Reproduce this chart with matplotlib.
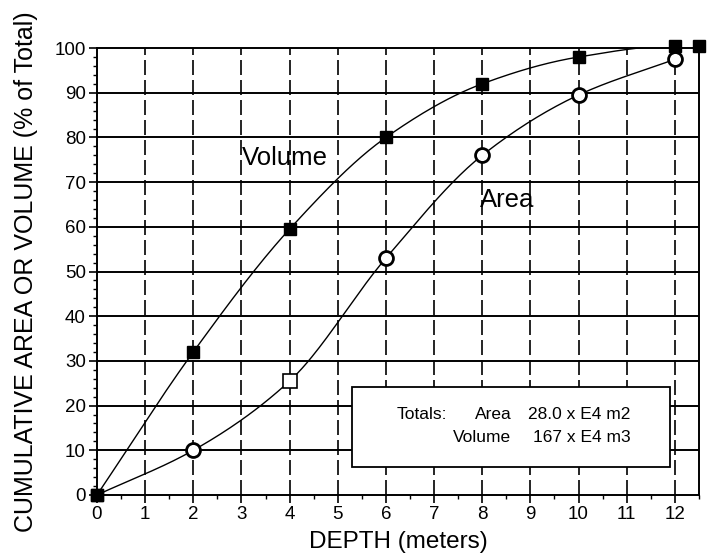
import numpy as np
import matplotlib
matplotlib.use('Agg')
import matplotlib.pyplot as plt
from matplotlib.ticker import MultipleLocator

# data
depth_vol = [0, 2, 4, 6, 8, 10, 12, 12.5]
volume = [0, 32, 59.5, 80, 92, 98, 100.5, 100.5]
depth_area = [0, 2, 4, 6, 8, 10, 12]
area = [0, 10, 25.5, 53, 76, 89.5, 97.5]


def smooth(x, y, n=40):
    # monotone cubic (Fritsch-Carlson) just for drawing the curve
    x = np.asarray(x, float)
    y = np.asarray(y, float)
    h = np.diff(x)
    d = np.diff(y) / h
    m = np.zeros_like(y)
    m[0], m[-1] = d[0], d[-1]
    for i in range(1, len(y) - 1):
        if d[i - 1] * d[i] <= 0:
            m[i] = 0
        else:
            w1 = 2 * h[i] + h[i - 1]
            w2 = h[i] + 2 * h[i - 1]
            m[i] = (w1 + w2) / (w1 / d[i - 1] + w2 / d[i])
    xs, ys = [], []
    for i in range(len(h)):
        t = np.linspace(0, 1, n)
        h00 = 2 * t**3 - 3 * t**2 + 1
        h10 = t**3 - 2 * t**2 + t
        h01 = -2 * t**3 + 3 * t**2
        h11 = t**3 - t**2
        xs.append(x[i] + t * h[i])
        ys.append(h00 * y[i] + h10 * h[i] * m[i] + h01 * y[i + 1] + h11 * h[i] * m[i + 1])
    return np.concatenate(xs), np.concatenate(ys)


plt.rcParams['font.family'] = ['Liberation Sans', 'DejaVu Sans']

fig = plt.figure(figsize=(7.11, 5.59), dpi=100)
ax = fig.add_axes([0.1364, 0.1145, 0.8466, 0.7995])

for yv in range(10, 100, 10):
    ax.axhline(yv, color='black', lw=1.4, zorder=1)
for xv in range(1, 13):
    ax.axvline(xv, color='black', lw=1.2, ls=(0, (9, 3)), zorder=1)

xv, yv = smooth(depth_vol, volume)
ax.plot(xv, yv, color='black', lw=1.0, zorder=2)
xa, ya = smooth(depth_area, area)
ax.plot(xa, ya, color='black', lw=1.0, zorder=2)

ax.plot(depth_vol, volume, ls='none', marker='s', ms=8, color='black', zorder=4, clip_on=False)
circ = [i for i in range(len(depth_area)) if i not in (0, 2)]
ax.plot([depth_area[i] for i in circ], [area[i] for i in circ], ls='none', marker='o', ms=10,
        mfc='white', mec='black', mew=2, zorder=4, clip_on=False)
ax.plot(depth_area[2], area[2], ls='none', marker='s', ms=10, mfc='white', mec='black', mew=1.2, zorder=4)
ax.plot(0, 0, ls='none', marker='s', ms=9, color='black', zorder=5, clip_on=False)

ax.text(3.0, 75.5, 'Volume', fontsize=18.5, va='center', ha='left')
ax.text(7.95, 66, 'Area', fontsize=18.5, va='center', ha='left')

box = plt.Rectangle((5.29, 6.3), 6.6, 17.9, facecolor='white', edgecolor='black', lw=1.3, zorder=6)
ax.add_patch(box)
fs = 12.5
ax.text(6.22, 17.9, 'Totals:', fontsize=fs, va='center', zorder=7)
ax.text(7.85, 17.9, 'Area', fontsize=fs, va='center', zorder=7)
ax.text(8.95, 17.9, '28.0 x E4 m2', fontsize=fs, va='center', zorder=7)
ax.text(7.4, 12.8, 'Volume', fontsize=fs, va='center', zorder=7)
ax.text(9.05, 12.8, '167 x E4 m3', fontsize=fs, va='center', zorder=7)

ax.set_xlim(0, 12.5)
ax.set_ylim(0, 100)
ax.xaxis.set_major_locator(MultipleLocator(1))
ax.xaxis.set_minor_locator(MultipleLocator(0.5))
ax.yaxis.set_major_locator(MultipleLocator(10))
ax.yaxis.set_minor_locator(MultipleLocator(2))
ax.tick_params(which='major', direction='out', length=6, width=1.2, labelsize=13.5, pad=2)
ax.tick_params(which='minor', direction='out', length=3, width=1.0)
for s in ax.spines.values():
    s.set_linewidth(1.4)

ax.set_xlabel('DEPTH (meters)', fontsize=17.5, labelpad=6)
ax.set_ylabel('CUMULATIVE AREA OR VOLUME (% of Total)', fontsize=18, labelpad=12)

fig.savefig('out.png', dpi=100)
